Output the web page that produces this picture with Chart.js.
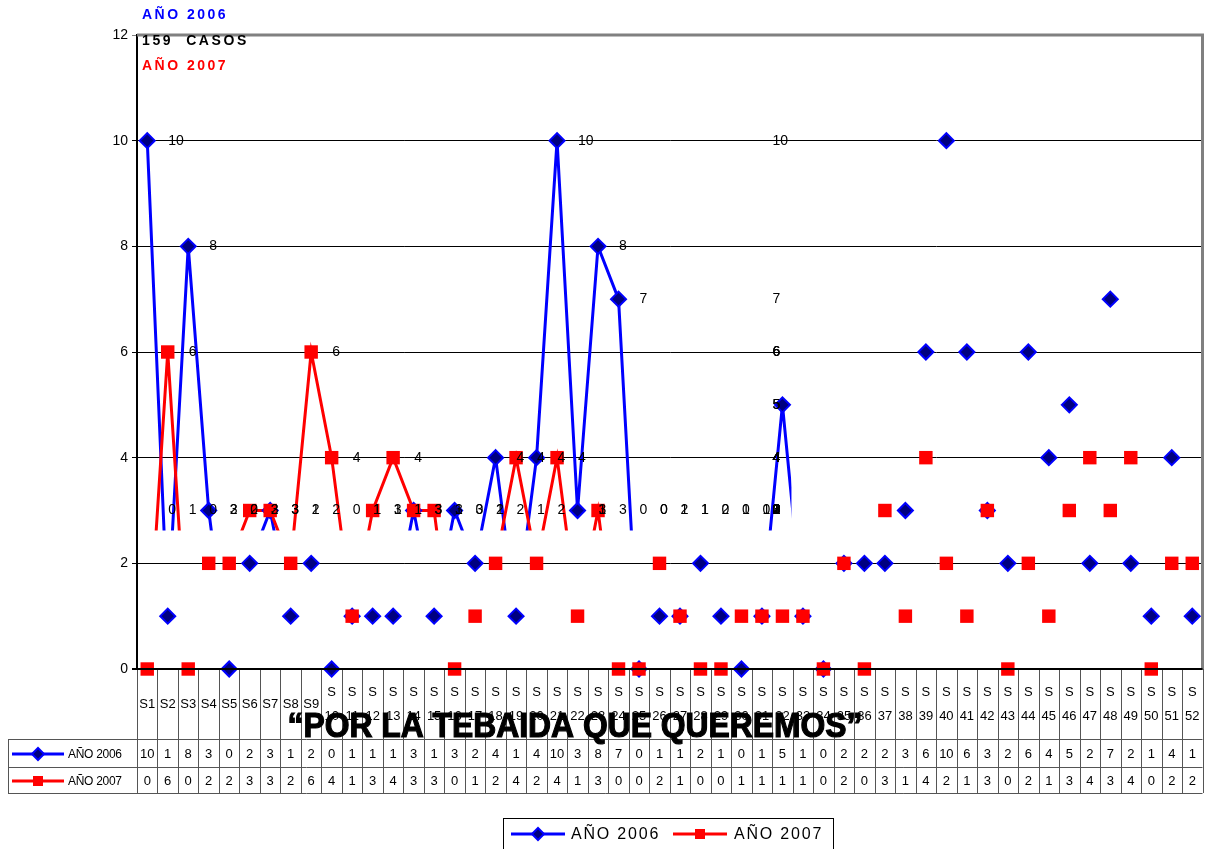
<!DOCTYPE html>
<html>
<head>
<meta charset="utf-8">
<title>Casos 2006 - 2007</title>
<script src="https://cdn.jsdelivr.net/npm/chart.js@4/dist/chart.umd.min.js"></script>
<style>
body { margin: 0; background: #fff; }
canvas { display: block; }
</style>
</head>
<body>
<canvas id="grafica" width="1212" height="849"></canvas>
<script>
// Datos
const semanas = ['S1','S2','S3','S4','S5','S6','S7','S8','S9','S10','S11','S12','S13',
  'S14','S15','S16','S17','S18','S19','S20','S21','S22','S23','S24','S25','S26',
  'S27','S28','S29','S30','S31','S32','S33','S34','S35','S36','S37','S38','S39',
  'S40','S41','S42','S43','S44','S45','S46','S47','S48','S49','S50','S51','S52'];

const anio2006 = [10,1,8,3,0,2,3,1,2,0,1,1,1,3,1,3,2,4,1,4,10,3,8,7,0,1,
  1,2,1,0,1,5,1,0,2,2,2,3,6,10,6,3,2,6,4,5,2,7,2,1,4,1];

const anio2007 = [0,6,0,2,2,3,3,2,6,4,1,3,4,3,3,0,1,2,4,2,4,1,3,0,0,2,
  1,0,0,1,1,1,1,0,2,0,3,1,4,2,1,3,0,2,1,3,4,3,4,0,2,2];

const nombres = ['AÑO 2006', 'AÑO 2007'];
const colores = ['#0000ff', '#ff0000'];
const totalCasos = '159  CASOS';
const titulo = '“POR LA TEBAIDA QUE QUEREMOS”';

const FUENTE = '"Liberation Sans", Arial, sans-serif';

// Marcador para leyenda y tabla
function marcador(ctx, serie, x, y) {
  ctx.save();
  if (serie === 0) {
    ctx.beginPath();
    ctx.moveTo(x - 6, y); ctx.lineTo(x, y - 6); ctx.lineTo(x + 6, y); ctx.lineTo(x, y + 6);
    ctx.closePath();
    ctx.fillStyle = '#000080';
    ctx.fill();
    ctx.lineWidth = 2;
    ctx.strokeStyle = '#0000ff';
    ctx.stroke();
  } else {
    ctx.fillStyle = '#ff0000';
    ctx.fillRect(x - 5, y - 5, 10, 10);
  }
  ctx.restore();
}

function iconoSerie(ctx, serie, x1, x2, y) {
  ctx.save();
  ctx.strokeStyle = colores[serie];
  ctx.lineWidth = 3;
  ctx.beginPath(); ctx.moveTo(x1, y); ctx.lineTo(x2, y); ctx.stroke();
  ctx.restore();
  marcador(ctx, serie, (x1 + x2) / 2, y);
}

// Las lineas solo se ven en parte (como en el original)
const recorte = {
  id: 'recorte',
  beforeDatasetDraw(chart, args) {
    if (!chart.data.datasets[args.index].recortar) return;
    const ctx = chart.ctx;
    const { left, top } = chart.chartArea;
    const der = chart.scales.x.getPixelForValue(31) + 9;
    const abajo = chart.scales.y.getPixelForValue(2.62);
    ctx.save();
    ctx.beginPath();
    ctx.rect(left, top - 10, der - left, abajo - top + 10);
    ctx.clip();
  },
  afterDatasetDraw(chart, args) {
    if (!chart.data.datasets[args.index].recortar) return;
    chart.ctx.restore();
  }
};

// Etiquetas de valores
const etiquetas = {
  id: 'etiquetas',
  afterDatasetsDraw(chart) {
    const ctx = chart.ctx;
    const x = chart.scales.x, y = chart.scales.y;
    const maxX = x.getPixelForValue(31) - 10;
    ctx.save();
    ctx.font = '14px ' + FUENTE;
    ctx.fillStyle = '#000';
    ctx.textAlign = 'left';
    ctx.textBaseline = 'middle';
    [anio2006, anio2007].forEach(serie => {
      serie.forEach((v, i) => {
        const px = Math.min(x.getPixelForValue(i) + 21, maxX);
        ctx.fillText(String(v), px, y.getPixelForValue(Math.max(v, 3)));
      });
    });
    ctx.restore();
  }
};

// Tabla de datos, titulos y leyenda
const extras = {
  id: 'extras',
  afterDraw(chart) {
    const ctx = chart.ctx;
    const area = chart.chartArea;
    const x = chart.scales.x;
    const ancho = (area.right - area.left) / semanas.length;
    const t0 = area.bottom, t1 = 739, t2 = 767, t3 = 793;

    ctx.save();
    // borde gris del area
    ctx.strokeStyle = '#808080';
    ctx.lineWidth = 3;
    ctx.beginPath();
    ctx.moveTo(area.left, area.top); ctx.lineTo(area.right, area.top);
    ctx.lineTo(area.right, area.bottom);
    ctx.stroke();

    // lineas de la tabla
    ctx.lineWidth = 1;
    ctx.strokeStyle = '#555';
    for (let k = 0; k <= semanas.length; k++) {
      const lx = Math.round(area.left + k * ancho) + 0.5;
      ctx.beginPath(); ctx.moveTo(lx, t0); ctx.lineTo(lx, t3); ctx.stroke();
    }
    [t1, t2, t3].forEach(ty => {
      ctx.beginPath(); ctx.moveTo(8, ty + 0.5); ctx.lineTo(area.right, ty + 0.5); ctx.stroke();
    });
    ctx.beginPath(); ctx.moveTo(8.5, t1); ctx.lineTo(8.5, t3); ctx.stroke();

    // eje x
    ctx.strokeStyle = '#000';
    ctx.lineWidth = 2;
    ctx.beginPath(); ctx.moveTo(area.left - 5, t0); ctx.lineTo(area.right, t0); ctx.stroke();

    // encabezados y valores
    ctx.fillStyle = '#000';
    ctx.textAlign = 'center';
    ctx.textBaseline = 'middle';
    ctx.font = '13px ' + FUENTE;
    semanas.forEach((s, i) => {
      const cx = x.getPixelForValue(i);
      if (s.length <= 2) {
        ctx.fillText(s, cx, 704);
      } else {
        ctx.fillText('S', cx, 692);
        ctx.fillText(s.slice(1), cx, 716);
      }
      ctx.fillText(String(anio2006[i]), cx, (t1 + t2) / 2 + 1);
      ctx.fillText(String(anio2007[i]), cx, (t2 + t3) / 2 + 1);
    });

    // nombres de filas
    ctx.textAlign = 'left';
    ctx.font = '12px ' + FUENTE;
    ctx.letterSpacing = '-0.3px';
    [[t1, t2], [t2, t3]].forEach((f, s) => {
      const cy = (f[0] + f[1]) / 2 + 1;
      iconoSerie(ctx, s, 12, 64, cy);
      ctx.fillStyle = '#000';
      ctx.fillText(nombres[s], 68, cy + 1);
    });
    ctx.letterSpacing = '0px';

    // titulo grande
    ctx.font = 'bold 35px ' + FUENTE;
    ctx.textBaseline = 'alphabetic';
    ctx.textAlign = 'center';
    const w = ctx.measureText(titulo).width;
    ctx.save();
    ctx.translate(575, 737);
    ctx.scale(575 / w, 1);
    ctx.fillText(titulo, 0, 0);
    ctx.lineWidth = 1.2;
    ctx.strokeStyle = '#000';
    ctx.strokeText(titulo, 0, 0);
    ctx.restore();

    // textos arriba a la izquierda
    ctx.textAlign = 'left';
    ctx.textBaseline = 'middle';
    ctx.font = 'bold 14px ' + FUENTE;
    ctx.letterSpacing = '2.5px';
    ctx.fillStyle = colores[0];
    ctx.fillText(nombres[0], 142, 15);
    ctx.fillStyle = '#000';
    ctx.letterSpacing = '2.6px';
    ctx.fillText(totalCasos, 142, 41);
    ctx.letterSpacing = '2.5px';
    ctx.fillStyle = colores[1];
    ctx.fillText(nombres[1], 142, 66);

    // leyenda
    ctx.letterSpacing = '1.8px';
    ctx.font = '16px ' + FUENTE;
    ctx.strokeStyle = '#000';
    ctx.lineWidth = 1;
    ctx.strokeRect(503.5, 818.5, 330, 40);
    iconoSerie(ctx, 0, 511, 565, 834);
    ctx.fillStyle = '#000';
    ctx.fillText(nombres[0], 571, 835);
    iconoSerie(ctx, 1, 673, 727, 834);
    ctx.fillStyle = '#000';
    ctx.fillText(nombres[1], 734, 835);
    ctx.letterSpacing = '0px';
    ctx.restore();
  }
};

new Chart(document.getElementById('grafica'), {
  type: 'line',
  data: {
    labels: semanas,
    datasets: [
      {
        label: nombres[0] + ' linea', data: anio2006, recortar: true,
        borderColor: colores[0], borderWidth: 3, pointRadius: 0, fill: false,
        tension: 0, order: 3
      },
      {
        label: nombres[1] + ' linea', data: anio2007, recortar: true,
        borderColor: colores[1], borderWidth: 3, pointRadius: 0, fill: false,
        tension: 0, order: 2
      },
      {
        label: nombres[0], data: anio2006, showLine: false,
        pointStyle: 'rectRot', pointRadius: 7.5, pointBackgroundColor: '#000080',
        pointBorderColor: colores[0], pointBorderWidth: 2, clip: false, order: 1
      },
      {
        label: nombres[1], data: anio2007, showLine: false,
        pointStyle: 'rect', pointRadius: 9.5, pointBackgroundColor: colores[1],
        pointBorderColor: colores[1], pointBorderWidth: 0, clip: false, order: 0
      }
    ]
  },
  options: {
    responsive: false,
    animation: false,
    layout: { padding: { left: 0, top: 35, right: 5, bottom: 180 } },
    plugins: {
      legend: { display: false },
      tooltip: { enabled: false }
    },
    scales: {
      x: { display: false, offset: true },
      y: {
        min: 0, max: 12,
        afterFit: s => { s.width = 137; },
        border: { color: '#000', width: 2 },
        grid: {
          color: c => (c.tick && c.tick.value === 12) ? '#808080' : '#000',
          lineWidth: 1, tickLength: 5
        },
        ticks: { stepSize: 2, color: '#000', padding: 4, font: { family: FUENTE, size: 14 } }
      }
    }
  },
  plugins: [recorte, etiquetas, extras]
});
</script>
</body>
</html>
